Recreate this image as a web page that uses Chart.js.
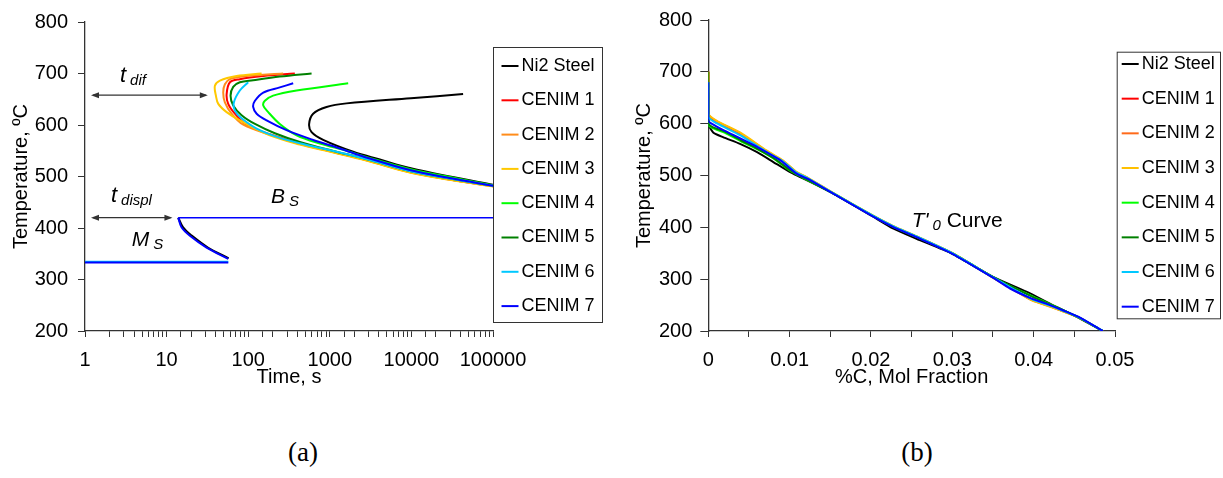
<!DOCTYPE html>
<html>
<head>
<meta charset="utf-8">
<script src="https://cdn.jsdelivr.net/npm/chart.js@4.4.1/dist/chart.umd.min.js"></script>
<style>
  body { margin: 0; background: #fff; }
  #wrap { position: relative; width: 1223px; height: 478px; overflow: hidden; background: #fff; }
  canvas { position: absolute; top: 0; }
  #chartA { left: 0; }
  #chartB { left: 612px; }
  .cap { position: absolute; top: 439px; width: 100px; text-align: center; line-height: 27px;
         font-family: "Liberation Serif", "Times New Roman", serif; font-size: 27px; }
</style>
</head>
<body>
<div id="wrap">
  <canvas id="chartA" width="612" height="400"></canvas>
  <canvas id="chartB" width="611" height="400"></canvas>
  <div class="cap" style="left:253px">(a)</div>
  <div class="cap" style="left:867px">(b)</div>
</div>
<script>
// series names
const names = ['Ni2 Steel', 'CENIM 1', 'CENIM 2', 'CENIM 3', 'CENIM 4', 'CENIM 5', 'CENIM 6', 'CENIM 7'];

// (a) diffusional C-curves: time (s) and temperature (C)
const ni2Time = [43000, 9840, 1600, 912, 625, 558, 598, 829, 1932, 4100, 9840, 29500, 100000];
const ni2Temp = [660, 652, 642, 635, 622, 602, 586, 571, 548, 533, 516, 500, 484];
const c1Time = [373, 153, 79, 59.7, 54.4, 56.9, 68.7, 96, 184, 430, 1080, 2800, 9840, 29500, 100000];
const c1Temp = [700, 695, 689, 683, 660, 641, 622, 600, 582, 564, 548, 532, 508, 494, 481];
const c2Time = [268, 95.6, 59.7, 51.8, 49.4, 51.8, 62.6, 86, 184, 430, 1080, 2800, 9840, 29500, 100000];
const c2Temp = [700, 695, 689, 679, 663, 644, 622, 601, 581, 563, 547.5, 531.5, 507.5, 494, 481];
const c3Time = [146, 72, 45, 39.1, 40.2, 43, 54.4, 79, 184, 430, 1080, 2800, 9840, 29500, 100000];
const c3Temp = [700, 695, 686, 676, 657, 641, 625, 609, 580, 562, 547, 531, 507, 493.5, 480.5];
const c4Time = [1680, 392, 202, 160, 153, 176, 244, 392, 755, 1600, 2800, 9840, 29500, 100000];
const c4Temp = [681, 667, 657, 647, 638, 625, 602, 580, 564, 550, 538, 514, 499, 483];
const c5Time = [598, 244, 115, 79, 65.5, 60.8, 65.5, 83, 121, 212, 430, 1080, 2800, 9840, 29500, 100000];
const c5Temp = [700, 694, 687, 683, 674, 657, 638, 619, 602, 584, 567, 550, 534, 510, 496, 482];
const c6Time = [100, 79, 66.8, 68.7, 83, 127, 244, 495, 1080, 2800, 9840, 29500, 100000];
const c6Temp = [683, 667, 644, 628, 613, 593, 575, 562, 550, 534, 510, 496, 482];
const c7Time = [356, 244, 153, 121, 115, 127, 168, 295, 625, 1327, 2800, 9840, 29500, 100000];
const c7Temp = [681, 673, 663, 647, 635, 622, 609, 590, 571, 554.5, 537, 512, 497, 482];

// (a) displacive part: Bs line, lower C-curve, Ms line
const bsTime = [13.9, 100000];
const bsTemp = [420, 420];
const lowTime = [13.9, 15.3, 19.3, 30.9, 56.9];
const lowTemp = [420, 401, 385, 362, 340];
const ni2LowTime = [13.9, 15.9, 20.3, 32, 57.5];
const ni2LowTemp = [420, 401, 385, 362, 341];
const msTime = [1, 57];
const msTemp = [333, 333];
const msCyanTemp = [334.5, 334.5];

// (b) T'0 curves: carbon mol fraction and temperature (C)
const ni2X = [0, 0, 0.0006, 0.0018, 0.0039, 0.006, 0.008, 0.010, 0.0113, 0.0154, 0.020, 0.0227, 0.0256, 0.030, 0.035, 0.0391, 0.042, 0.0457, 0.0485];
const ni2T = [660, 600, 583, 574, 561, 545, 526, 507, 497, 465, 423, 398, 378, 349, 304.5, 276, 253, 224, 200];
const cAX = [0, 0, 0.001, 0.0039, 0.0072, 0.0092, 0.0109, 0.0121, 0.0154, 0.020, 0.0227, 0.0256, 0.030, 0.035, 0.0375, 0.0398, 0.042, 0.0457, 0.0485];
const t1T = [700, 618, 604, 581, 546, 527, 505, 496, 465, 424, 402, 382, 350, 303, 280, 260, 248, 225, 200];
const t2T = [700, 619, 605, 582, 547, 528, 505.5, 496.5, 465.5, 424.5, 402.5, 382.5, 350, 303, 280, 259, 247, 225, 200];
const t3T = [700, 620, 606, 583, 548, 529, 506.4, 497, 466, 425, 403, 383, 350.5, 303, 280, 259, 247, 225, 200];
const t6T = [680, 613, 601, 578, 545, 527, 505, 496, 465.5, 424.5, 402.5, 382.5, 350, 303.5, 281, 261, 249, 225.5, 200];
const cGX = [0, 0, 0.0006, 0.002, 0.004, 0.006, 0.008, 0.010, 0.0115, 0.0154, 0.020, 0.0227, 0.0256, 0.030, 0.035, 0.0375, 0.040, 0.042, 0.0457, 0.0485];
const t4T = [680, 598, 591, 583, 566, 551, 533, 510, 497, 465, 424, 401.5, 381.5, 349.5, 304, 284, 266, 252, 225, 200];
const t5T = [700, 600, 593, 585, 568, 552, 534, 511, 498, 465, 424, 401.5, 381.5, 349.5, 304, 284, 265, 251, 225, 200];
const t7X = [0, 0, 0.0004, 0.0018, 0.004, 0.006, 0.0088, 0.0109, 0.0123, 0.0154, 0.020, 0.0227, 0.0256, 0.030, 0.035, 0.0371, 0.0397, 0.042, 0.0436, 0.0457, 0.0485];
const t7T = [680, 606, 600, 588, 571, 555, 530, 503, 493, 464.5, 423, 401, 381, 349, 303, 282, 263, 250, 240, 226, 200];

// tick labels
const yTicks = [200, 300, 400, 500, 600, 700, 800];
const xTicksA = [1, 10, 100, 1000, 10000, 100000];
const xTicksB = [0, 0.01, 0.02, 0.03, 0.04, 0.05];

const colorsA = ['#000000', '#ff0000', '#ff8c1a', '#ffc800', '#00ff00', '#008000', '#00c8ff', '#0000ff'];
const colorsB = ['#000000', '#ff0000', '#ff6a1a', '#ffc000', '#00ff00', '#008000', '#00c8ff', '#0000ff'];

const fontFam = "'Liberation Sans', Arial, sans-serif";
Chart.defaults.font.family = fontFam;
Chart.defaults.color = '#000';

function pts(xs, ys) {
  return xs.map(function(x, i) { return {x: x, y: ys[i]}; });
}

function lineSet(label, data, color, order, width) {
  return {
    label: label, data: data, borderColor: color, backgroundColor: color,
    borderWidth: width || 2, pointRadius: 0, showLine: true, fill: false,
    tension: 0.35, order: order
  };
}

// boxed legend drawn to the right of the plot area
function boxLegend(o) {
  return {
    id: 'boxLegend',
    afterDraw(chart) {
      const ctx = chart.ctx;
      ctx.save();
      ctx.fillStyle = '#fff';
      ctx.fillRect(o.left, o.top, o.width, o.height);
      ctx.strokeStyle = '#333';
      ctx.lineWidth = 1;
      ctx.strokeRect(o.left + 0.5, o.top + 0.5, o.width, o.height);
      ctx.font = '18px ' + fontFam;
      ctx.textBaseline = 'middle';
      names.forEach(function(n, i) {
        const y = o.firstY + i * o.gap;
        ctx.strokeStyle = o.colors[i];
        ctx.lineWidth = 2;
        ctx.beginPath();
        ctx.moveTo(o.lineX, y);
        ctx.lineTo(o.lineX + 17, y);
        ctx.stroke();
        ctx.fillStyle = '#000';
        ctx.fillText(n, o.textX, y);
      });
      ctx.restore();
    }
  };
}

function drawArrow(ctx, x1, x2, y) {
  ctx.strokeStyle = '#333';
  ctx.fillStyle = '#333';
  ctx.lineWidth = 1.2;
  ctx.beginPath();
  ctx.moveTo(x1 + 2, y);
  ctx.lineTo(x2 - 2, y);
  ctx.stroke();
  [[x1, 1], [x2, -1]].forEach(function(h) {
    ctx.beginPath();
    ctx.moveTo(h[0], y);
    ctx.lineTo(h[0] + 8 * h[1], y - 3);
    ctx.lineTo(h[0] + 8 * h[1], y + 3);
    ctx.closePath();
    ctx.fill();
  });
}

// text with subscript, anchored on data values
function drawSub(ctx, x, y, main, sub, rest, size) {
  ctx.fillStyle = '#000';
  ctx.textBaseline = 'alphabetic';
  ctx.textAlign = 'left';
  ctx.font = 'italic ' + size + 'px ' + fontFam;
  ctx.fillText(main, x, y);
  let w = ctx.measureText(main).width + 4;
  ctx.font = 'italic 15px ' + fontFam;
  ctx.fillText(sub, x + w, y + 3);
  w += ctx.measureText(sub).width;
  if (rest) {
    ctx.font = size + 'px ' + fontFam;
    ctx.fillText(rest, x + w, y);
  }
}

const notesA = [
  {x: 2.68, y: 683, main: 't', sub: 'dif', size: 22},
  {x: 2.08, y: 450, main: 't', sub: 'displ', size: 22},
  {x: 190, y: 449, main: 'B', sub: 'S', size: 21},
  {x: 3.73, y: 365.5, main: 'M', sub: 'S', size: 21}
];
const arrowsA = [{from: 1, to: 32, temp: 658}, {from: 1, to: 11.8, temp: 420}];

const notesAPlugin = {
  id: 'notesA',
  afterDatasetsDraw(chart) {
    const ctx = chart.ctx, xs = chart.scales.x, ys = chart.scales.y;
    ctx.save();
    arrowsA.forEach(function(a) {
      drawArrow(ctx, xs.getPixelForValue(a.from) + 6, xs.getPixelForValue(a.to), ys.getPixelForValue(a.temp));
    });
    notesA.forEach(function(n) {
      drawSub(ctx, xs.getPixelForValue(n.x), ys.getPixelForValue(n.y), n.main, n.sub, '', n.size);
    });
    ctx.restore();
  }
};

const notesBPlugin = {
  id: 'notesB',
  afterDatasetsDraw(chart) {
    const ctx = chart.ctx, xs = chart.scales.x, ys = chart.scales.y;
    ctx.save();
    drawSub(ctx, xs.getPixelForValue(0.025), ys.getPixelForValue(400.5), "T'", '0', ' Curve', 21);
    ctx.restore();
  }
};

function axisY(titlePad, tickLen, tickPad, width) {
  return {
    min: 200, max: 800,
    border: {display: true, color: '#333', width: 1.3},
    grid: {drawOnChartArea: false, drawTicks: true, tickLength: tickLen, color: '#333'},
    ticks: {stepSize: 100, padding: tickPad, font: {size: 20}, color: '#000',
      callback: function(v) { return yTicks.indexOf(v) >= 0 ? String(v) : ''; }},
    title: {display: true, text: 'Temperature, \u00baC', font: {size: 20}, color: '#000',
      padding: {top: titlePad, bottom: 0}},
    afterFit: function(s) { s.width = width; }
  };
}

// chart (a)
const upperA = [[ni2Time, ni2Temp], [c1Time, c1Temp], [c2Time, c2Temp], [c3Time, c3Temp],
  [c4Time, c4Temp], [c5Time, c5Temp], [c6Time, c6Temp], [c7Time, c7Temp]];
const dsA = upperA.map(function(s, i) { return lineSet(names[i], pts(s[0], s[1]), colorsA[i], -i); });
dsA.push(lineSet('Ms 6', pts(msTime, msCyanTemp), colorsA[6], -20, 2));
dsA.push(lineSet('Ms', pts(msTime, msTemp), colorsA[7], -21, 2));
dsA.push(lineSet('low Ni2', pts(ni2LowTime, ni2LowTemp), '#000000', -22, 2.2));
dsA.push(lineSet('low', pts(lowTime, lowTemp), colorsA[7], -23, 2));
dsA.push(lineSet('Bs', pts(bsTime, bsTemp), colorsA[7], -24, 1.6));

new Chart(document.getElementById('chartA'), {
  type: 'scatter',
  data: {datasets: dsA},
  options: {
    responsive: false, animation: false,
    layout: {padding: {left: 0, right: 119, top: 19, bottom: 0}},
    plugins: {legend: {display: false}, tooltip: {enabled: false}},
    scales: {
      x: {
        type: 'logarithmic', min: 1, max: 100000,
        border: {display: true, color: '#333', width: 1.3},
        grid: {drawOnChartArea: false, drawTicks: true, tickLength: 6, color: '#333'},
        ticks: {autoSkip: false, maxRotation: 0, padding: 11, font: {size: 20}, color: '#000',
          callback: function(v) { return xTicksA.indexOf(v) >= 0 ? String(v) : ''; }},
        title: {display: true, text: 'Time, s', font: {size: 20}, color: '#000',
          padding: {top: 0, bottom: 11}},
        afterFit: function(s) { s.height = 69; }
      },
      y: axisY(9, 7, 10, 85)
    }
  },
  plugins: [notesAPlugin, boxLegend({left: 493, top: 47, width: 109, height: 275,
    firstY: 66, gap: 34.3, lineX: 501.5, textX: 521.5, colors: colorsA})]
});

// chart (b)
const seriesB = [[ni2X, ni2T], [cAX, t1T], [cAX, t2T], [cAX, t3T],
  [cGX, t4T], [cGX, t5T], [cAX, t6T], [t7X, t7T]];
const dsB = seriesB.map(function(s, i) {
  const d = lineSet(names[i], pts(s[0], s[1]), colorsB[i], -i);
  d.tension = 0.2;
  return d;
});

new Chart(document.getElementById('chartB'), {
  type: 'scatter',
  data: {datasets: dsB},
  options: {
    responsive: false, animation: false,
    layout: {padding: {left: 0, right: 108, top: 19, bottom: 0}},
    plugins: {legend: {display: false}, tooltip: {enabled: false}},
    scales: {
      x: {
        type: 'linear', min: 0, max: 0.05,
        border: {display: true, color: '#333', width: 1.3},
        grid: {drawOnChartArea: false, drawTicks: true, tickLength: 6, color: '#333'},
        ticks: {stepSize: 0.005, autoSkip: false, maxRotation: 0, padding: 11, font: {size: 20}, color: '#000',
          callback: function(v) {
            const k = Math.round(v * 1000);
            return k % 10 === 0 && xTicksB.indexOf(k / 1000) >= 0 ? String(k / 1000) : '';
          }},
        title: {display: true, text: '%C, Mol Fraction', font: {size: 20}, color: '#000',
          padding: {top: 0, bottom: 11}},
        afterFit: function(s) { s.height = 69; }
      },
      y: axisY(20, 8, 8, 96.3)
    }
  },
  plugins: [notesBPlugin, boxLegend({left: 504.7, top: 51.7, width: 103.3, height: 266.6,
    firstY: 64, gap: 34.67, lineX: 509.7, textX: 529.7, colors: colorsB})]
});
</script>
</body>
</html>
